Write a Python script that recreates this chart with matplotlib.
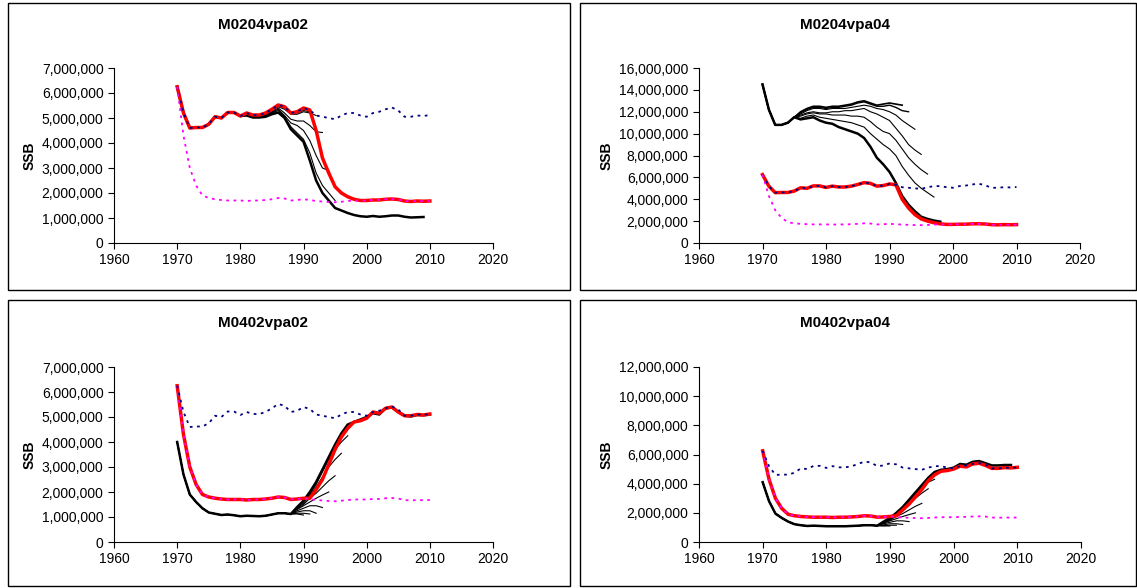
import matplotlib.pyplot as plt
import matplotlib.ticker as mticker
from matplotlib.patches import Rectangle
import numpy as np

plt.rcParams['font.family'] = ['Liberation Sans', 'DejaVu Sans']

years = list(range(1970, 2011))

# population trajectories (millions)
high = [6.25, 5.2, 4.6, 4.62, 4.62, 4.75, 5.05, 5.0, 5.22, 5.22, 5.08, 5.2, 5.12, 5.12, 5.2, 5.35,
        5.52, 5.45, 5.2, 5.25, 5.4, 5.32, 5.1, 5.05, 5.0, 4.95, 5.1, 5.2, 5.2, 5.1, 5.05, 5.2, 5.25,
        5.35, 5.42, 5.3, 5.05, 5.05, 5.1, 5.08, 5.12]
low = [6.25, 4.3, 3.0, 2.3, 1.9, 1.8, 1.75, 1.72, 1.7, 1.7, 1.7, 1.68, 1.7, 1.7, 1.72, 1.75, 1.8,
       1.78, 1.7, 1.72, 1.75, 1.72, 1.68, 1.66, 1.64, 1.63, 1.65, 1.68, 1.7, 1.7, 1.7, 1.72, 1.72,
       1.75, 1.76, 1.74, 1.68, 1.66, 1.68, 1.67, 1.68]

# true SSB per scenario
true_0204 = high[:21] + [5.32, 4.5, 3.4, 2.8, 2.25, 2.0, 1.85, 1.75, 1.7, 1.7, 1.72, 1.72, 1.75,
                         1.76, 1.74, 1.68, 1.66, 1.68, 1.67, 1.68]
true_0204b = high[:21] + [5.32, 4.0, 3.2, 2.6, 2.2, 2.0, 1.85, 1.75, 1.7, 1.7, 1.72, 1.72, 1.75,
                          1.76, 1.74, 1.68, 1.66, 1.68, 1.67, 1.68]
true_0402 = low[:21] + [1.75, 2.1, 2.5, 3.1, 3.7, 4.2, 4.55, 4.8, 4.85, 4.95, 5.2, 5.15, 5.35,
                        5.4, 5.2, 5.05, 5.05, 5.1, 5.08, 5.12]
true_0402b = low[:21] + [1.8, 2.2, 2.6, 3.1, 3.6, 4.2, 4.6, 4.85, 4.9, 5.0, 5.2, 5.15, 5.35,
                         5.4, 5.25, 5.05, 5.05, 5.1, 5.08, 5.12]

# retrospective VPA runs: (values from 1970, line width)
head1 = high[:11]
retro_0204vpa02 = [
    (head1 + [5.2, 5.12, 5.12, 5.2, 5.35, 5.5, 5.4, 5.2, 5.2, 5.3, 5.25], 0.8),
    (head1 + [5.18, 5.1, 5.1, 5.18, 5.3, 5.45, 5.35, 5.15, 5.15, 5.25, 5.2, 5.1], 0.8),
    (head1 + [5.15, 5.05, 5.05, 5.15, 5.25, 5.4, 5.2, 4.95, 4.88, 4.88, 4.7, 4.45, 4.42], 0.8),
    (head1 + [5.15, 5.05, 5.05, 5.12, 5.22, 5.35, 5.1, 4.8, 4.7, 4.5, 4.1, 3.5, 3.0, 2.9], 0.8),
    (head1 + [5.12, 5.03, 5.03, 5.1, 5.2, 5.3, 5.05, 4.65, 4.4, 4.15, 3.6, 2.8, 2.3, 2.0, 1.7], 0.8),
    (head1 + [5.1, 5.02, 5.02, 5.05, 5.15, 5.22, 5.0, 4.55, 4.3, 4.05, 3.3, 2.5, 2.0, 1.7, 1.4,
              1.3, 1.2, 1.12, 1.07, 1.05, 1.08, 1.05, 1.07, 1.1, 1.1, 1.05, 1.02, 1.03, 1.04], 1.8),
]

head2 = [14.5, 12.2, 10.8, 10.8, 11.0, 11.5]
retro_0204vpa04 = [
    (head2 + [12.0, 12.3, 12.5, 12.5, 12.4, 12.5, 12.5, 12.6, 12.7, 12.9, 13.0, 12.8, 12.6, 12.7,
              12.8, 12.7, 12.6], 1.2),
    (head2 + [11.9, 12.2, 12.4, 12.4, 12.3, 12.4, 12.4, 12.5, 12.6, 12.8, 12.9, 12.7, 12.5, 12.5,
              12.6, 12.4, 12.1, 12.0], 1.0),
    (head2 + [11.8, 12.1, 12.3, 12.3, 12.2, 12.3, 12.3, 12.3, 12.4, 12.5, 12.6, 12.5, 12.3, 12.2,
              12.0, 11.7, 11.2, 10.8, 10.4], 0.8),
    (head2 + [11.7, 11.9, 12.0, 11.9, 11.9, 12.0, 12.0, 12.1, 12.1, 12.2, 12.3, 12.0, 11.8, 11.5,
              11.2, 10.5, 9.8, 9.0, 8.5, 8.1], 0.8),
    (head2 + [11.6, 11.8, 11.9, 11.8, 11.8, 11.7, 11.7, 11.7, 11.6, 11.6, 11.5, 11.1, 10.6, 10.2,
              10.0, 9.4, 8.6, 7.8, 7.2, 6.7, 6.3], 0.8),
    (head2 + [11.4, 11.6, 11.7, 11.5, 11.4, 11.3, 11.2, 11.1, 11.0, 10.8, 10.6, 10.0, 9.5, 9.0,
              8.6, 8.0, 7.0, 6.2, 5.5, 5.0, 4.6, 4.2], 0.8),
    (head2 + [11.3, 11.4, 11.5, 11.2, 11.0, 10.9, 10.6, 10.4, 10.2, 10.0, 9.6, 8.8, 7.8, 7.2,
              6.5, 5.5, 4.3, 3.5, 2.9, 2.4, 2.2, 2.05, 1.95], 1.8),
]

head3 = [4.0, 2.7, 1.9, 1.6, 1.35, 1.18, 1.13, 1.08, 1.1, 1.07, 1.03, 1.05, 1.04, 1.03, 1.05,
         1.1, 1.15, 1.15, 1.12]
retro_0402vpa02 = [
    (head3 + [1.12, 1.08], 0.8),
    (head3 + [1.15, 1.15, 1.12], 0.8),
    (head3 + [1.2, 1.25, 1.25, 1.15], 0.8),
    (head3 + [1.25, 1.35, 1.45, 1.45, 1.38], 0.8),
    (head3 + [1.3, 1.45, 1.6, 1.75, 1.88, 2.0], 0.8),
    (head3 + [1.32, 1.5, 1.75, 1.95, 2.2, 2.45, 2.65], 0.8),
    (head3 + [1.35, 1.55, 1.85, 2.2, 2.6, 3.0, 3.3, 3.55], 0.8),
    (head3 + [1.38, 1.6, 1.9, 2.3, 2.8, 3.3, 3.7, 4.0, 4.25], 0.8),
    (head3 + [1.4, 1.65, 2.0, 2.4, 2.9, 3.4, 3.9, 4.35, 4.7, 4.8, 4.9, 5.0, 5.15, 5.1, 5.35,
              5.38, 5.2, 5.05, 5.02, 5.08, 5.07, 5.1], 1.8),
]

head4 = [4.1, 2.8, 1.95, 1.65, 1.4, 1.22, 1.15, 1.1, 1.12, 1.1, 1.08, 1.08, 1.08, 1.08, 1.1,
         1.12, 1.15, 1.15, 1.12]
retro_0402vpa04 = [
    (head4 + [1.1, 1.1], 0.8),
    (head4 + [1.12, 1.15, 1.15], 0.8),
    (head4 + [1.18, 1.25, 1.25, 1.2], 0.8),
    (head4 + [1.25, 1.35, 1.45, 1.45, 1.4], 0.8),
    (head4 + [1.3, 1.45, 1.6, 1.75, 1.88, 2.0], 0.8),
    (head4 + [1.32, 1.5, 1.75, 1.95, 2.2, 2.45, 2.65], 0.8),
    (head4 + [1.35, 1.55, 1.85, 2.2, 2.6, 3.0, 3.35, 3.65], 0.8),
    (head4 + [1.38, 1.6, 1.9, 2.3, 2.8, 3.3, 3.8, 4.1, 4.3], 0.8),
    (head4 + [1.4, 1.65, 2.0, 2.4, 2.9, 3.4, 3.9, 4.4, 4.8, 4.95, 5.0, 5.1, 5.35, 5.3, 5.5,
              5.55, 5.4, 5.25, 5.25, 5.28, 5.28], 1.8),
]

panels = [
    ('M0204vpa02', true_0204, high, low, retro_0204vpa02, 7, 1),
    ('M0204vpa04', true_0204b, high, low, retro_0204vpa04, 16, 2),
    ('M0402vpa02', true_0402, low, high, retro_0402vpa02, 7, 1),
    ('M0402vpa04', true_0402b, low, high, retro_0402vpa04, 12, 2),
]

W, H = 1137, 588
fig = plt.figure(figsize=(W / 100, H / 100), dpi=100)

boxes = [(8, 3, 570, 290), (580, 3, 1136, 290), (8, 300, 570, 586), (580, 300, 1136, 586)]
axes_px = [(114, 68, 493, 243), (699, 68, 1080, 243), (114, 367, 493, 542), (699, 367, 1081, 542)]
title_px = [(263, 25), (845, 25), (263, 323), (845, 323)]

for (name, true, dot1, dot2, retros, ymax, ystep), box, ap, tp in zip(panels, boxes, axes_px, title_px):
    x0, y0, x1, y1 = box
    fig.patches.append(Rectangle((x0 / W, 1 - y1 / H), (x1 - x0) / W, (y1 - y0) / H,
                                 transform=fig.transFigure, fill=False, edgecolor='black', lw=1))
    ax = fig.add_axes([ap[0] / W, 1 - ap[3] / H, (ap[2] - ap[0]) / W, (ap[3] - ap[1]) / H])
    fig.text(tp[0] / W, 1 - tp[1] / H, name, ha='center', va='center',
             fontsize=11, fontweight='bold')

    for vals, lw in retros:
        ax.plot(years[:len(vals)], np.array(vals) * 1e6, color='black', lw=lw)
    ax.plot(years, np.array(true) * 1e6, color='red', lw=2.5)
    dcol1 = 'navy' if dot1 is high else 'magenta'
    dcol2 = 'magenta' if dot1 is high else 'navy'
    ax.plot(years, np.array(dot1) * 1e6, color=dcol1, lw=1.3, ls=(0, (1.5, 2.5)))
    ax.plot(years, np.array(dot2) * 1e6, color=dcol2, lw=1.3, ls=(0, (1.5, 2.5)))

    ax.set_xlim(1960, 2020)
    ax.set_ylim(0, ymax * 1e6)
    ax.set_xticks(range(1960, 2021, 10))
    ax.set_yticks(np.arange(0, ymax + 0.1, ystep) * 1e6)
    ax.yaxis.set_major_formatter(mticker.FuncFormatter(lambda v, p: f'{int(round(v)):,}'))
    ax.spines['top'].set_visible(False)
    ax.spines['right'].set_visible(False)
    ax.tick_params(labelsize=10, length=4, direction='out')
    ax.set_ylabel('SSB', fontsize=10, fontweight='bold', labelpad=4)

fig.savefig('out.png', dpi=100)
